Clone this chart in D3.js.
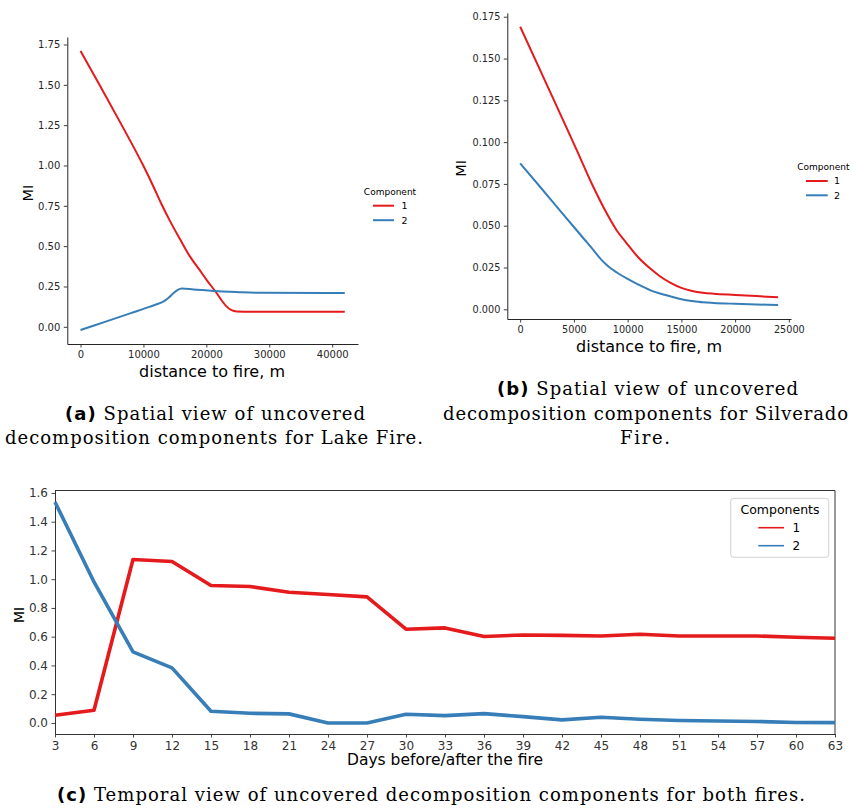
<!DOCTYPE html>
<html>
<head>
<meta charset="UTF-8">
<title>MI decomposition components</title>
<script src="https://d3js.org/d3.v7.min.js"></script>
<style>
  body { margin: 0; background: #fff; }
  svg { display: block; font-family: "DejaVu Sans", sans-serif; }
  .caption { font-family: "DejaVu Serif", serif; font-size: 18px; fill: #000; }
  .caption .lbl { font-family: "DejaVu Sans", sans-serif; font-weight: bold; }
</style>
</head>
<body>
<svg width="853" height="808"></svg>
<script>
// (a) Lake Fire, MI vs distance (m)
const lakeDist1 = [0, 3100, 6440, 9990, 11580, 12900, 14230, 15800, 17410, 18800, 20060, 21650, 22500, 23240, 24000, 24830, 26000, 42000];
const lakeComp1 = [1.71, 1.494, 1.258, 0.998, 0.87, 0.758, 0.655, 0.544, 0.435, 0.359, 0.29, 0.208, 0.16, 0.125, 0.103, 0.095, 0.094, 0.094];
const lakeDist2 = [0, 4000, 8000, 11070, 12000, 13160, 14000, 14750, 15400, 16090, 17930, 21110, 25000, 28540, 42000];
const lakeComp2 = [-0.02, 0.0324, 0.0848, 0.125, 0.138, 0.156, 0.18, 0.208, 0.228, 0.237, 0.232, 0.222, 0.215, 0.211, 0.21];

// (b) Silverado Fire, MI vs distance (m)
const silvDist1 = [0, 2000, 4000, 5250, 6800, 8050, 9000, 9910, 11000, 12080, 13000, 14000, 15000, 16000, 17000, 18000, 20000, 22000, 24000];
const silvComp1 = [0.169, 0.141, 0.113, 0.0954, 0.0733, 0.0574, 0.047, 0.0395, 0.031, 0.0245, 0.0198, 0.0158, 0.0128, 0.011, 0.0099, 0.0093, 0.0086, 0.0079, 0.0072];
const silvDist2 = [0, 2000, 4000, 6000, 6800, 7500, 8050, 9000, 9910, 11000, 12080, 13000, 14000, 15000, 16000, 17000, 18000, 20000, 22000, 24000];
const silvComp2 = [0.0873, 0.0721, 0.0568, 0.0416, 0.0355, 0.030, 0.0265, 0.022, 0.0185, 0.0148, 0.0115, 0.0095, 0.0077, 0.006, 0.005, 0.0042, 0.0038, 0.0033, 0.0029, 0.0026];

// (c) both fires, MI vs days
const days = [3, 6, 9, 12, 15, 18, 21, 24, 27, 30, 33, 36, 39, 42, 45, 48, 51, 54, 57, 60, 63];
const tempComp1 = [0.054, 0.088, 1.137, 1.123, 0.956, 0.949, 0.909, 0.893, 0.877, 0.652, 0.661, 0.601, 0.612, 0.609, 0.605, 0.617, 0.605, 0.605, 0.605, 0.596, 0.589];
const tempComp2 = [1.537, 0.981, 0.494, 0.383, 0.081, 0.067, 0.063, 0.0, 0.0, 0.06, 0.051, 0.065, 0.044, 0.021, 0.04, 0.026, 0.017, 0.013, 0.01, 0.003, 0.002];

const lakeXTicks = [0, 10000, 20000, 30000, 40000];
const lakeYTicks = [0, 0.25, 0.5, 0.75, 1.0, 1.25, 1.5, 1.75];
const silvXTicks = [0, 5000, 10000, 15000, 20000, 25000];
const silvYTicks = [0, 0.025, 0.05, 0.075, 0.1, 0.125, 0.15, 0.175];
const tempYTicks = [0, 0.2, 0.4, 0.6, 0.8, 1.0, 1.2, 1.4, 1.6];
const componentNames = ["1", "2"];
const colors = ["#e41a1c", "#377eb8"];

const svg = d3.select("svg");
svg.append("rect").attr("width", 853).attr("height", 808).attr("fill", "#fff");

function drawPanel(p) {
  const x = d3.scaleLinear().domain(p.xDomain).range([p.left, p.right]);
  const y = d3.scaleLinear().domain(p.yDomain).range([p.bottom, p.top]);
  const g = svg.append("g");

  const xa = g.append("g")
    .attr("transform", "translate(0," + p.bottom + ")")
    .call(d3.axisBottom(x).tickValues(p.xTicks).tickFormat(p.xFormat)
      .tickSizeInner(3.5).tickSizeOuter(0).tickPadding(3.5));
  const ya = g.append("g")
    .attr("transform", "translate(" + p.left + ",0)")
    .call(d3.axisLeft(y).tickValues(p.yTicks).tickFormat(p.yFormat)
      .tickSizeInner(3.5).tickSizeOuter(0).tickPadding(3.5));
  [xa, ya].forEach(a => {
    a.attr("font-family", "DejaVu Sans").attr("font-size", p.tickFont);
    a.selectAll("text").attr("fill", p.ink);
    a.selectAll("line").attr("stroke", p.ink).attr("stroke-width", 0.9);
    a.select(".domain").attr("stroke", p.ink).attr("stroke-width", 1);
  });

  if (p.box) {
    g.append("line").attr("x1", p.left).attr("x2", p.right).attr("y1", p.top).attr("y2", p.top)
      .attr("stroke", p.ink).attr("stroke-width", 1);
    g.append("line").attr("x1", p.right).attr("x2", p.right).attr("y1", p.top).attr("y2", p.bottom)
      .attr("stroke", p.ink).attr("stroke-width", 1);
  }

  p.series.forEach((s, i) => {
    const xs = p.xs[i];
    const line = d3.line()
      .x((d, j) => x(xs[j]))
      .y(d => y(d))
      .curve(p.curve);
    g.append("path").datum(s)
      .attr("d", line)
      .attr("fill", "none")
      .attr("stroke", colors[i])
      .attr("stroke-width", p.lineWidth)
      .attr("stroke-linejoin", "round");
  });

  // axis labels
  g.append("text")
    .attr("transform", "translate(" + p.yLabelX + "," + p.yLabelY + ") rotate(-90)")
    .attr("text-anchor", "middle")
    .attr("font-size", p.yLabelFont)
    .attr("fill", "#000")
    .text("MI");
  g.append("text")
    .attr("x", p.xLabelX).attr("y", p.xLabelY)
    .attr("text-anchor", "middle")
    .attr("font-size", p.xLabelFont)
    .attr("fill", "#000")
    .text(p.xLabel);

  // legend
  const L = p.legend;
  if (L.box) {
    g.append("rect")
      .attr("x", L.box[0]).attr("y", L.box[1]).attr("width", L.box[2]).attr("height", L.box[3])
      .attr("rx", 3).attr("fill", "#fff").attr("fill-opacity", 0.8)
      .attr("stroke", "#d0d0d0").attr("stroke-width", 1);
  }
  g.append("text")
    .attr("x", L.titleX).attr("y", L.titleY)
    .attr("text-anchor", "middle")
    .attr("font-size", L.titleFont)
    .attr("fill", "#000")
    .text(L.title);
  componentNames.forEach((name, i) => {
    const yy = L.rowY + i * L.rowGap;
    g.append("line")
      .attr("x1", L.lineX1).attr("x2", L.lineX2).attr("y1", yy).attr("y2", yy)
      .attr("stroke", colors[i]).attr("stroke-width", L.lineWidth);
    g.append("text")
      .attr("x", L.textX).attr("y", yy).attr("dy", "0.36em")
      .attr("font-size", L.labelFont)
      .attr("fill", "#000")
      .text(name);
  });
}

drawPanel({
  left: 67.3, right: 358, top: 37, bottom: 344,
  xDomain: [-2100, 44100], yDomain: [-0.1065, 1.7965],
  xTicks: lakeXTicks, yTicks: lakeYTicks,
  xFormat: d3.format("d"), yFormat: d3.format(".2f"),
  tickFont: 10, ink: "#262626", box: false,
  xs: [lakeDist1, lakeDist2], series: [lakeComp1, lakeComp2],
  curve: d3.curveMonotoneX, lineWidth: 2,
  yLabelX: 32.5, yLabelY: 193, yLabelFont: 14.5,
  xLabel: "distance to fire, m", xLabelX: 212, xLabelY: 377, xLabelFont: 16,
  legend: { title: "Component", titleX: 390, titleY: 194.5, titleFont: 9,
            rowY: 205.7, rowGap: 14.5, lineX1: 373, lineX2: 394, textX: 401.5,
            lineWidth: 2, labelFont: 9.5 }
});

drawPanel({
  left: 507.3, right: 791, top: 12.9, bottom: 319,
  xDomain: [-1200, 25200], yDomain: [-0.0058, 0.1773],
  xTicks: silvXTicks, yTicks: silvYTicks,
  xFormat: d3.format("d"), yFormat: d3.format(".3f"),
  tickFont: 9.7, ink: "#262626", box: false,
  xs: [silvDist1, silvDist2], series: [silvComp1, silvComp2],
  curve: d3.curveMonotoneX, lineWidth: 2,
  yLabelX: 466, yLabelY: 168.3, yLabelFont: 14.5,
  xLabel: "distance to fire, m", xLabelX: 649, xLabelY: 352, xLabelFont: 16,
  legend: { title: "Component", titleX: 823.3, titleY: 170, titleFont: 9,
            rowY: 181, rowGap: 14.3, lineX1: 806, lineX2: 827.7, textX: 834,
            lineWidth: 2, labelFont: 9.5 }
});

drawPanel({
  left: 55, right: 835, top: 490.5, bottom: 734,
  xDomain: [3, 63], yDomain: [-0.077, 1.617],
  xTicks: days, yTicks: tempYTicks,
  xFormat: d3.format("d"), yFormat: d3.format(".1f"),
  tickFont: 12, ink: "#333", box: true,
  xs: [days, days], series: [tempComp1, tempComp2],
  curve: d3.curveLinear, lineWidth: 3.6,
  yLabelX: 24, yLabelY: 615, yLabelFont: 14,
  xLabel: "Days before/after the fire", xLabelX: 445, xLabelY: 765.3, xLabelFont: 15.5,
  legend: { box: [730.7, 498.3, 98, 59], title: "Components", titleX: 780, titleY: 514, titleFont: 12.5,
            rowY: 527.7, rowGap: 18, lineX1: 758.3, lineX2: 784, textX: 792.5,
            lineWidth: 1.6, labelFont: 12 }
});

// sub-figure captions
const captions = [
  { lbl: "(a)", text: " Spatial view of uncovered", x: 215, y: 420, w: 300 },
  { lbl: "", text: "decomposition components for Lake Fire.", x: 214, y: 444, w: 418 },
  { lbl: "(b)", text: " Spatial view of uncovered", x: 647.5, y: 395, w: 301 },
  { lbl: "", text: "decomposition components for Silverado", x: 645.5, y: 420, w: 405 },
  { lbl: "", text: "Fire.", x: 645, y: 444, w: 50 },
  { lbl: "(c)", text: " Temporal view of uncovered decomposition components for both fires.", x: 431, y: 801, w: 748 }
];
captions.forEach(c => {
  const t = svg.append("text")
    .attr("class", "caption")
    .attr("x", c.x).attr("y", c.y)
    .attr("text-anchor", "middle")
    .attr("textLength", c.w)
    .attr("lengthAdjust", "spacing");
  if (c.lbl) t.append("tspan").attr("class", "lbl").text(c.lbl);
  t.append("tspan").text(c.text);
});
</script>
</body>
</html>
